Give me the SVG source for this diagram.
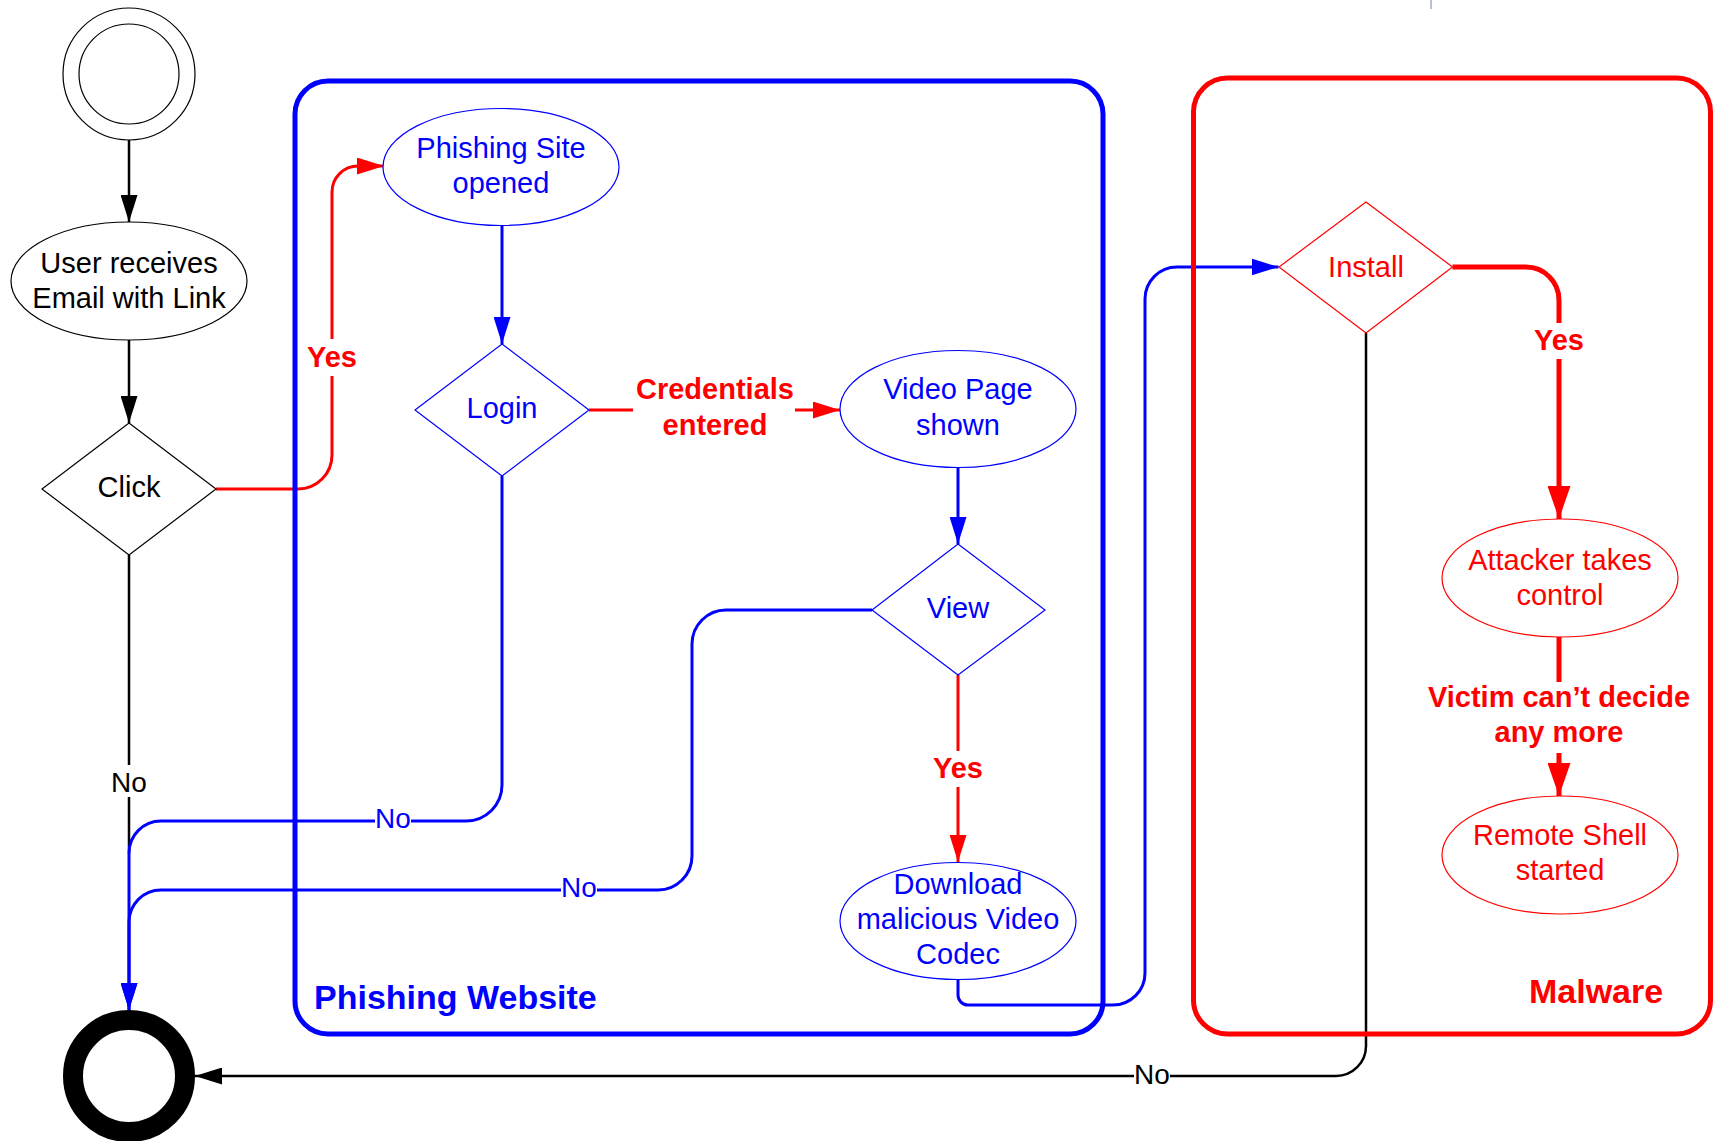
<svg xmlns="http://www.w3.org/2000/svg" width="1718" height="1141" viewBox="0 0 1718 1141">
<defs>
<style>
text{font-family:"Liberation Sans",Arial,sans-serif;text-anchor:middle}
.t{font-size:29px}
.b{font-size:29px;font-weight:bold}
.bb{font-size:34px;font-weight:bold;text-anchor:start}
.lab{font-size:28px}
.k{fill:#000}.bl{fill:#0000ff}.rd{fill:#ff0000}
.nk{fill:#fff;stroke:#000;stroke-width:1.2}
.nb{fill:#fff;stroke:#0000ff;stroke-width:1.2}
.nr{fill:#fff;stroke:#ff0000;stroke-width:1.2}
.c{fill:none}
.ck{stroke:#000;stroke-width:2.5}
.cb{stroke:#0000ff;stroke-width:3}
.cr{stroke:#ff0000;stroke-width:3}
.cR{stroke:#ff0000;stroke-width:5}
.bg{fill:#fff}
</style>
<marker id="ak" markerUnits="userSpaceOnUse" markerWidth="27" markerHeight="17" refX="27" refY="8.5" orient="auto"><path d="M0,0 L27,8.5 L0,17 z" fill="#000"/></marker>
<marker id="ab" markerUnits="userSpaceOnUse" markerWidth="27" markerHeight="17" refX="27" refY="8.5" orient="auto"><path d="M0,0 L27,8.5 L0,17 z" fill="#0000ff"/></marker>
<marker id="ar" markerUnits="userSpaceOnUse" markerWidth="27" markerHeight="17" refX="27" refY="8.5" orient="auto"><path d="M0,0 L27,8.5 L0,17 z" fill="#ff0000"/></marker>
<marker id="aR" markerUnits="userSpaceOnUse" markerWidth="33" markerHeight="23" refX="33" refY="11.5" orient="auto"><path d="M0,0 L33,11.5 L0,23 z" fill="#ff0000"/></marker>
</defs>
<rect width="1718" height="1141" fill="#fff"/>
<line x1="1431" y1="0" x2="1431" y2="9" stroke="#b8c0d4" stroke-width="2"/>

<g id="connectors">
<path class="c ck" d="M129,140 V222" marker-end="url(#ak)"/>
<path class="c ck" d="M129,340 V423" marker-end="url(#ak)"/>
<path class="c ck" d="M129,555 V853"/>
<path class="c cr" d="M216,489 H298 A34,34 0 0 0 332,455 V192 A26,26 0 0 1 358,166 H384" marker-end="url(#ar)"/>
<path class="c cb" d="M502,226 V344" marker-end="url(#ab)"/>
<path class="c cb" d="M502,476 V785 A36,36 0 0 1 466,821 H161 A32,32 0 0 0 129,853 V1010" marker-end="url(#ab)"/>
<path class="c cb" d="M872,610 H726 A34,34 0 0 0 692,644 V856 A34,34 0 0 1 658,890 H161 A32,32 0 0 0 129,922 V1010" marker-end="url(#ab)"/>
<path class="c cr" d="M589,410 H840" marker-end="url(#ar)"/>
<path class="c cb" d="M958,468 V544" marker-end="url(#ab)"/>
<path class="c cr" d="M958,675 V862" marker-end="url(#ar)"/>
<path class="c cb" d="M958,979 V995 A10,10 0 0 0 968,1005 H1113 A32,32 0 0 0 1145,973 V299 A32,32 0 0 1 1177,267 H1278.5" marker-end="url(#ab)"/>
<path class="c cR" d="M1452.5,267 H1526 A33,33 0 0 1 1559,300 V519" marker-end="url(#aR)"/>
<path class="c cR" d="M1559,637 V796" marker-end="url(#aR)"/>
<path class="c ck" d="M1366,333 V1046 A30,30 0 0 1 1336,1076 H195" marker-end="url(#ak)"/>

<rect class="bg" x="310" y="339" width="46" height="37"/>
<text class="b rd" x="332" y="367">Yes</text>
<rect class="bg" x="633" y="370" width="162" height="75"/>
<text class="b rd" x="715" y="399">Credentials</text>
<text class="b rd" x="715" y="435">entered</text>
<rect class="bg" x="935" y="751" width="46" height="36"/>
<text class="b rd" x="958" y="778">Yes</text>
<rect class="bg" x="111" y="765" width="36" height="32"/>
<text class="lab k" x="129" y="792">No</text>
<rect class="bg" x="375" y="808" width="36" height="26"/>
<text class="lab bl" x="393" y="828">No</text>
<rect class="bg" x="561" y="877" width="36" height="26"/>
<text class="lab bl" x="579" y="897">No</text>
<rect class="bg" x="1134" y="1064" width="36" height="26"/>
<text class="lab k" x="1152" y="1084">No</text>
<rect class="bg" x="1536" y="323" width="46" height="36"/>
<text class="b rd" x="1559" y="350">Yes</text>
<rect class="bg" x="1423" y="682" width="272" height="71"/>
<text class="b rd" x="1559" y="707">Victim can’t decide</text>
<text class="b rd" x="1559" y="742">any more</text>
</g>

<g id="phishing-website">
<rect x="295" y="81" width="808" height="953" rx="33" ry="33" fill="none" stroke="#0000ff" stroke-width="5"/>
<text class="bb bl" x="314" y="1009">Phishing Website</text>
</g>
<g id="malware">
<rect x="1193.5" y="78" width="517" height="956" rx="34" ry="34" fill="none" stroke="#ff0000" stroke-width="5"/>
<text class="bb rd" x="1529" y="1003">Malware</text>
</g>

<g id="start">
<circle cx="129" cy="74" r="66" fill="#fff" stroke="#000" stroke-width="1.2"/>
<circle cx="129" cy="74" r="50" fill="none" stroke="#000" stroke-width="1.2"/>
</g>
<g id="user-receives">
<ellipse class="nk" cx="129" cy="281" rx="118" ry="59"/>
<text class="t k" x="129" y="273">User receives</text>
<text class="t k" x="129" y="308">Email with Link</text>
</g>
<g id="click">
<polygon class="nk" points="129,423 216,489 129,555 42,489"/>
<text class="t k" x="129" y="497">Click</text>
</g>
<g id="phishing-site">
<ellipse class="nb" cx="501" cy="167" rx="118" ry="58.5"/>
<text class="t bl" x="501" y="158">Phishing Site</text>
<text class="t bl" x="501" y="193">opened</text>
</g>
<g id="login">
<polygon class="nb" points="502,344 589,410 502,476 415,410"/>
<text class="t bl" x="502" y="418">Login</text>
</g>
<g id="video-page">
<ellipse class="nb" cx="958" cy="409" rx="118" ry="58.5"/>
<text class="t bl" x="958" y="399">Video Page</text>
<text class="t bl" x="958" y="435">shown</text>
</g>
<g id="view">
<polygon class="nb" points="958,544 1045,610 958,675 872,610"/>
<text class="t bl" x="958" y="618">View</text>
</g>
<g id="download">
<ellipse class="nb" cx="958" cy="921" rx="118" ry="58.5"/>
<text class="t bl" x="958" y="894">Download</text>
<text class="t bl" x="958" y="929">malicious Video</text>
<text class="t bl" x="958" y="964">Codec</text>
</g>
<g id="install">
<polygon class="nr" points="1366,202 1452.5,267 1366,333 1279,267"/>
<text class="t rd" x="1366" y="277">Install</text>
</g>
<g id="attacker">
<ellipse class="nr" cx="1560" cy="578" rx="118" ry="59"/>
<text class="t rd" x="1560" y="570">Attacker takes</text>
<text class="t rd" x="1560" y="605">control</text>
</g>
<g id="remote-shell">
<ellipse class="nr" cx="1560" cy="855" rx="118" ry="59"/>
<text class="t rd" x="1560" y="845">Remote Shell</text>
<text class="t rd" x="1560" y="880">started</text>
</g>
<g id="end">
<circle cx="129" cy="1076" r="56" fill="#fff" stroke="#000" stroke-width="20"/>
</g>
</svg>
